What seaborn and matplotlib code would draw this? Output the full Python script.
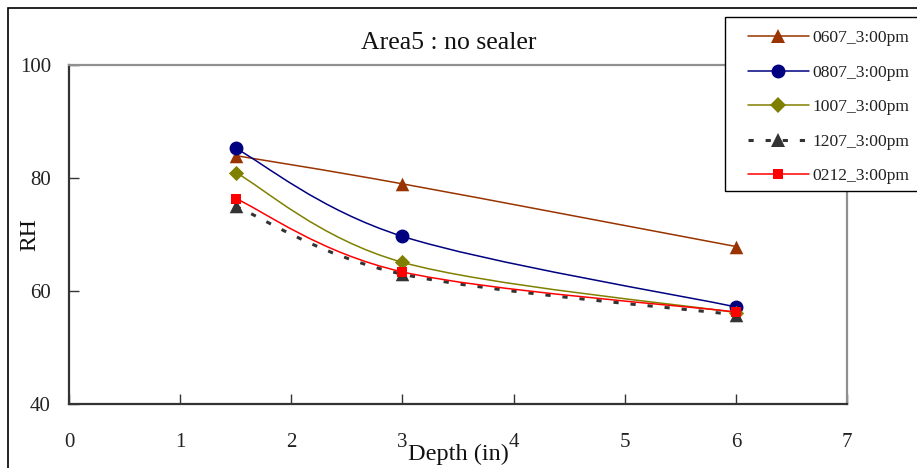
import numpy as np
import pandas as pd
import seaborn as sns
import matplotlib
matplotlib.use("Agg")
import matplotlib.pyplot as plt
from matplotlib.path import Path
from matplotlib.patches import PathPatch, Rectangle
from matplotlib.lines import Line2D

# ---- data ----
depth = [1.5, 3.0, 6.0]
s0607 = [84.0, 79.0, 67.9]
s0807 = [85.3, 69.7, 57.2]
s1007 = [81.0, 65.1, 56.2]
s1207 = [75.0, 63.0, 55.8]
s0212 = [76.4, 63.4, 56.3]
labels = ["0607_3:00pm", "0807_3:00pm", "1007_3:00pm", "1207_3:00pm", "0212_3:00pm"]
title = "Area5 : no sealer"
xlabel = "Depth (in)"
ylabel = "RH"

series = [s0607, s0807, s1007, s1207, s0212]
colors = ["#993300", "#000080", "#808000", "#333333", "#FF0000"]
markers = ["^", "o", "D", "^", "s"]
msizes = [95, 100, 60, 95, 60]
lws = [1.1, 1.1, 1.1, 2.2, 1.1]
dashes = [None, None, None, (1.7, 3.9), None]

sns.set_theme(style="white")
plt.rcParams["font.family"] = ["Liberation Serif", "DejaVu Serif"]

W, H = 917, 468
fig = plt.figure(figsize=(W / 100, H / 100), dpi=100)
ax = fig.add_axes([69 / W, 1 - 404 / H, (847 - 69) / W, (404 - 65.3) / H])


def smooth_path(xs, ys):
    # Excel-style smoothed line: cubic Bezier (Catmull-Rom, tension 1/6)
    pts = np.column_stack([xs, ys]).astype(float)
    n = len(pts)
    verts = [pts[0]]
    codes = [Path.MOVETO]
    for i in range(n - 1):
        p_prev = pts[i - 1] if i > 0 else pts[i]
        p0 = pts[i]
        p1 = pts[i + 1]
        p_next = pts[i + 2] if i + 2 < n else pts[i + 1]
        c1 = p0 + (p1 - p_prev) / 6.0
        c2 = p1 - (p_next - p0) / 6.0
        verts += [c1, c2, p1]
        codes += [Path.CURVE4] * 3
    return Path(verts, codes)


df = pd.DataFrame({"depth": depth})
for i, (vals, lab) in enumerate(zip(series, labels)):
    z = 3 + i * 2
    patch = PathPatch(smooth_path(depth, vals), facecolor="none", edgecolor=colors[i],
                      lw=lws[i], zorder=z, capstyle="butt")
    if dashes[i] is not None:
        patch.set_linestyle((0, dashes[i]))
    ax.add_patch(patch)
    df[lab] = vals
    sns.scatterplot(data=df, x="depth", y=lab, ax=ax, color=colors[i], marker=markers[i],
                    s=msizes[i], linewidth=0, zorder=z + 1, legend=False)

ax.set_xlim(0, 7)
ax.set_ylim(40, 100)
ax.set_xticks(range(0, 8))
ax.set_yticks([40, 60, 80, 100])
ax.tick_params(axis="x", direction="in", length=7, width=1, color="#333333", pad=21,
               labelsize=15, labelcolor="#222222", bottom=True)
ax.tick_params(axis="y", direction="in", length=7, width=1, color="#333333", pad=13,
               labelsize=15, labelcolor="#222222", left=True)
for side in ["left", "bottom"]:
    ax.spines[side].set_color("#333333")
    ax.spines[side].set_linewidth(1.6)
for side in ["top", "right"]:
    ax.spines[side].set_color("#909090")
    ax.spines[side].set_linewidth(1.6)
ax.grid(False)

ax.set_xlabel(xlabel, fontsize=17.5, color="#111111")
ax.xaxis.set_label_coords(0.5, -0.148)
ax.xaxis.label.set_va("center")
ax.set_ylabel(ylabel, fontsize=17, color="#111111")
ax.yaxis.set_label_coords(-0.05, 0.5)
ax.yaxis.label.set_va("center")
ax.text(0.488, (404 - 43) / (404 - 65.3), title, transform=ax.transAxes, ha="center",
        va="center", fontsize=18.5, color="#111111")

# figure border
fig.add_artist(Rectangle((8 / W, -0.2), 1.2, 1 - 8 / H + 0.2, transform=fig.transFigure,
                         facecolor="none", edgecolor="black", lw=1.2, zorder=0))
# legend box
fig.add_artist(Rectangle((725 / W, 1 - 191 / H), 0.3, (191 - 17) / H, transform=fig.transFigure,
                         facecolor="white", edgecolor="black", lw=1.0, zorder=20))

handles = []
for i, lab in enumerate(labels):
    ls = (0, dashes[i]) if dashes[i] is not None else "-"
    handles.append(Line2D([0], [0], color=colors[i], lw=lws[i], linestyle=ls,
                          marker=markers[i], markersize=np.sqrt(msizes[i]), markeredgewidth=0))
leg = fig.legend(handles=handles, labels=labels, loc="upper left",
                 bbox_to_anchor=(743 / W, 1 - 25 / H), frameon=False, fontsize=12.6,
                 handlelength=3.45, handletextpad=0.22, labelspacing=1.04, borderpad=0.3,
                 borderaxespad=0)
leg.set_zorder(21)
for t in leg.get_texts():
    t.set_color("#222222")

fig.savefig("out.png", dpi=100)
